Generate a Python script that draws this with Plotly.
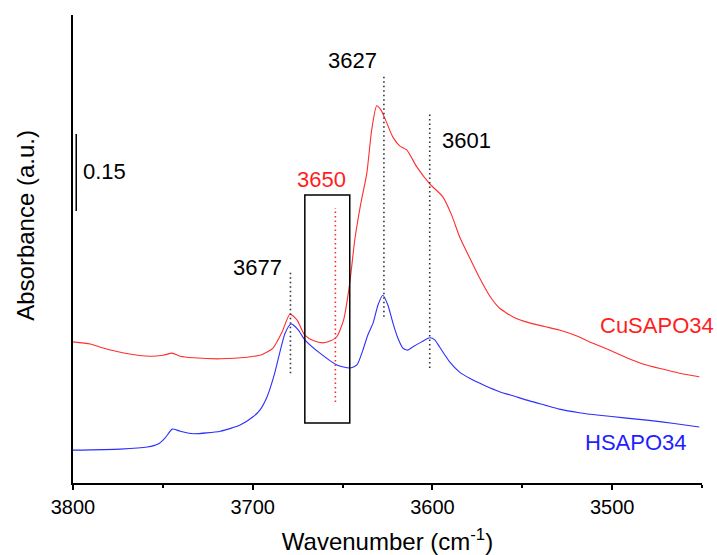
import plotly.graph_objects as go

# ---- data ----
wn_cu = [3800, 3790.4, 3783.2, 3771, 3757, 3749.9, 3744.8, 3740.4, 3733, 3718, 3703, 3695,
         3688.7, 3683.7, 3679.3, 3675.4, 3671, 3666, 3661, 3656.6, 3653.2, 3649.4, 3646,
         3643.2, 3640, 3636.5, 3633.8, 3631, 3628.7, 3626.5, 3622, 3618.2, 3614.3, 3608.7,
         3601.5, 3594.3, 3589.3, 3584.9, 3579.3, 3573.8, 3568.2, 3562.7, 3554.3, 3546,
         3537.7, 3529.4, 3520, 3511, 3501.5, 3492, 3482, 3472, 3462.6, 3451.5]
abs_cu = [0.275, 0.271, 0.263, 0.253, 0.247, 0.249, 0.253, 0.247, 0.244, 0.242, 0.245, 0.250,
          0.263, 0.294, 0.329, 0.318, 0.288, 0.277, 0.273, 0.277, 0.285, 0.318, 0.390,
          0.474, 0.542, 0.604, 0.688, 0.735, 0.727, 0.711, 0.674, 0.657, 0.649, 0.616,
          0.583, 0.558, 0.522, 0.480, 0.439, 0.400, 0.365, 0.341, 0.322, 0.312,
          0.305, 0.298, 0.287, 0.273, 0.259, 0.244, 0.231, 0.222, 0.214, 0.207]

wn_h = [3800, 3773.7, 3758.7, 3752.6, 3748.7, 3744.8, 3740.4, 3733, 3718, 3707, 3699.8, 3696,
        3692, 3688, 3684.6, 3682, 3678.7, 3674.6, 3671, 3662.6, 3653.2, 3646, 3642, 3638.7,
        3636, 3633, 3630.3, 3627.6, 3624.8, 3622, 3619.3, 3616.5, 3613.7, 3611, 3606,
        3601.5, 3598.7, 3596, 3590.4, 3584.9, 3579.3, 3571, 3562.7, 3554.3, 3546, 3537.7,
        3529.4, 3518.3, 3507.2, 3493.3, 3479.4, 3465.5, 3451.5]
abs_h = [0.064, 0.066, 0.070, 0.076, 0.088, 0.105, 0.101, 0.096, 0.101, 0.113, 0.129, 0.142,
         0.168, 0.211, 0.259, 0.292, 0.310, 0.298, 0.279, 0.253, 0.230, 0.224, 0.230, 0.259,
         0.288, 0.312, 0.347, 0.366, 0.347, 0.312, 0.283, 0.263, 0.259, 0.265, 0.275,
         0.283, 0.279, 0.265, 0.236, 0.216, 0.204, 0.190, 0.178, 0.169, 0.160, 0.152,
         0.144, 0.137, 0.132, 0.127, 0.122, 0.116, 0.109]

series_names = ["CuSAPO34", "HSAPO34"]
series_colors = ["rgb(255,45,45)", "rgb(45,45,255)"]

peak_wn = [3679, 3654, 3627, 3601.5]
peak_lo = [0.214, 0.158, 0.324, 0.224]
peak_hi = [0.411, 0.536, 0.795, 0.721]
peak_colors = ["#333333", "rgb(255,45,45)", "#333333", "#333333"]

peak_labels = ["3677", "3650", "3627", "3601"]
peak_label_x = [3697.6, 3662, 3644.3, 3581]
peak_label_y = [0.419, 0.591, 0.823, 0.667]
peak_label_colors = ["black", "rgb(255,30,30)", "black", "black"]

series_label_x = [3475.3, 3487]
series_label_y = [0.306, 0.078]

box_wn = [3671, 3646]
box_abs = [0.117, 0.561]

scale_wn = 3798.2
scale_abs = [0.53, 0.68]
scale_text = "0.15"
scale_label_x = 3782.6
scale_label_y = 0.608

x_ticks = [3800, 3700, 3600, 3500]

FONT = "Liberation Sans, Arial, sans-serif"

fig = go.Figure()
fig.add_trace(go.Scatter(x=wn_cu, y=abs_cu, mode="lines", name=series_names[0],
                         line=dict(color=series_colors[0], width=1.1, shape="spline", smoothing=0.6)))
fig.add_trace(go.Scatter(x=wn_h, y=abs_h, mode="lines", name=series_names[1],
                         line=dict(color=series_colors[1], width=1.1, shape="spline", smoothing=0.6)))

shapes = []
for w, lo, hi, c in zip(peak_wn, peak_lo, peak_hi, peak_colors):
    shapes.append(dict(type="line", xref="x", yref="y", x0=w, x1=w, y0=lo, y1=hi,
                       line=dict(color=c, width=1.6, dash="1.5px,3px")))
shapes.append(dict(type="rect", xref="x", yref="y", x0=box_wn[0], x1=box_wn[1],
                   y0=box_abs[0], y1=box_abs[1], line=dict(color="black", width=1.5)))
shapes.append(dict(type="line", xref="x", yref="y", x0=scale_wn, x1=scale_wn,
                   y0=scale_abs[0], y1=scale_abs[1], line=dict(color="black", width=1.5)))

annotations = []
for t, x, y, c in zip(peak_labels, peak_label_x, peak_label_y, peak_label_colors):
    annotations.append(dict(text=t, x=x, y=y, xref="x", yref="y", showarrow=False,
                            font=dict(family=FONT, size=22, color=c)))
for t, x, y, c in zip(series_names, series_label_x, series_label_y, ["rgb(255,30,30)", "rgb(30,30,255)"]):
    annotations.append(dict(text=t, x=x, y=y, xref="x", yref="y", showarrow=False,
                            font=dict(family=FONT, size=22, color=c)))
annotations.append(dict(text=scale_text, x=scale_label_x, y=scale_label_y, xref="x", yref="y",
                        showarrow=False, font=dict(family=FONT, size=22, color="black")))
# y-axis title (placed slightly above the axis centre, as in the reference)
annotations.append(dict(text="Absorbance (a.u.)", xref="paper", yref="paper", x=-0.076, y=0.55,
                        xanchor="center", yanchor="middle", textangle=-90, showarrow=False,
                        font=dict(family=FONT, size=24, color="black")))

fig.update_layout(
    width=717, height=555,
    margin=dict(l=73, r=15, t=15, b=72, autoexpand=False),
    paper_bgcolor="white", plot_bgcolor="white",
    showlegend=False,
    font=dict(family=FONT, color="black"),
    shapes=shapes, annotations=annotations,
    xaxis=dict(range=[3800, 3450], tickvals=x_ticks, ticks="outside", ticklen=5, tickwidth=1.5,
               tickcolor="black", showline=True, linecolor="black", linewidth=2, automargin=False,
               showgrid=False, zeroline=False, tickfont=dict(size=20, family=FONT),
               minor=dict(dtick=50, tick0=3800, ticks="outside", ticklen=3, tickcolor="black", tickwidth=1.5),
               title=dict(text="Wavenumber (cm<sup>-1</sup>)", font=dict(size=24, family=FONT), standoff=16)),
    yaxis=dict(range=[0, 0.912], showticklabels=False, ticks="", showline=True, linecolor="black",
               linewidth=2, showgrid=False, zeroline=False, automargin=False),
)

fig.write_html("out.html")
